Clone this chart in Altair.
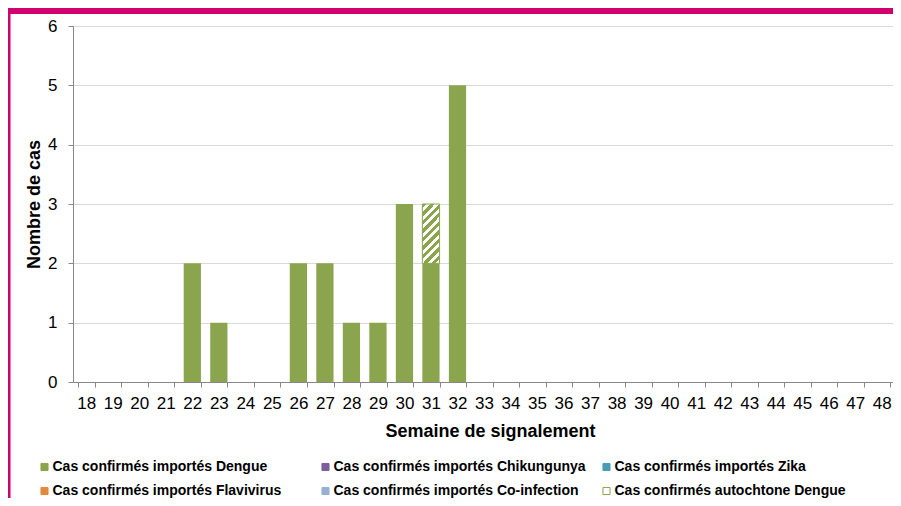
import altair as alt
import pandas as pd

# ---- data ----
weeks = [18, 19, 20, 21, 22, 23, 24, 25, 26, 27, 28, 29, 30, 31, 32, 33,
         34, 35, 36, 37, 38, 39, 40, 41, 42, 43, 44, 45, 46, 47, 48]
importes_dengue = [0, 0, 0, 0, 2, 1, 0, 0, 2, 2, 1, 1, 3, 2, 5, 0,
                   0, 0, 0, 0, 0, 0, 0, 0, 0, 0, 0, 0, 0, 0, 0]
autochtone_dengue = [0, 0, 0, 0, 0, 0, 0, 0, 0, 0, 0, 0, 0, 1, 0, 0,
                     0, 0, 0, 0, 0, 0, 0, 0, 0, 0, 0, 0, 0, 0, 0]
y_ticks = [0, 1, 2, 3, 4, 5, 6]

# legend entries (listed column by column: the legend grid fills columns first)
series_names = [
    "Cas confirmés importés  Dengue",
    "Cas confirmés importés  Flavivirus",
    "Cas confirmés importés  Chikungunya",
    "Cas confirmés importés  Co-infection",
    "Cas confirmés importés  Zika",
    "Cas confirmés autochtone Dengue",
]
fill_colors = ["#8BA54E", "#E2883F", "#7B5E9A", "#97AFD5", "#4A9BB3", "#FFFFFF"]
stroke_colors = ["#8BA54E", "#E2883F", "#7B5E9A", "#97AFD5", "#4A9BB3", "#8BA54E"]

GREEN = "#8BA54E"
MAGENTA = "#D0006F"
FONT = "Liberation Sans"

df = pd.DataFrame({"semaine": weeks, "importes": importes_dengue,
                   "autochtone": autochtone_dengue})
df["serie"] = series_names[0]

W, H = 820, 356          # visible part of the plot (page is cropped on the right)
RANGE_W = 822            # x scale runs slightly past the page edge, as in the reference

x_enc = alt.X(
    "semaine:O",
    scale=alt.Scale(domain=weeks, range=[0, RANGE_W], paddingInner=0.35, paddingOuter=0.175),
    axis=alt.Axis(title="Semaine de signalement", labelAngle=0, tickBand="extent",
                  labelFontSize=17, labelPadding=8, tickSize=5, titleFontSize=18,
                  titleFontWeight="bold", titlePadding=11, titleX=417, grid=False),
)
y_enc = alt.Y(
    "importes:Q",
    scale=alt.Scale(domain=[0, 6], nice=False),
    axis=alt.Axis(title="Nombre de cas", values=y_ticks, format="d", labelFontSize=17,
                  labelPadding=11, tickSize=5, titleFontSize=18, titleFontWeight="bold",
                  titlePadding=4, grid=True, gridColor="#d9d9d9"),
)

legend = alt.Legend(
    title=None, orient="none", legendX=-35.5, legendY=434, columns=3, gridAlign="all",
    columnPadding=10, rowPadding=10, symbolType="square", symbolSize=50,
    symbolStrokeWidth=1, labelFont=FONT, labelFontWeight="bold", labelFontSize=14,
    labelLimit=400, labelOffset=1, padding=0, labelColor="black",
)

bars = alt.Chart(df).mark_bar(strokeWidth=0).encode(
    x=x_enc,
    y=y_enc,
    fill=alt.Fill("serie:N", scale=alt.Scale(domain=series_names, range=fill_colors),
                  legend=legend),
    stroke=alt.Stroke("serie:N", scale=alt.Scale(domain=series_names, range=stroke_colors),
                      legend=legend),
)

# diagonal hatching for the autochthonous case
n_stripes = 9
stops = []
for i in range(n_stripes):
    stops.append(alt.GradientStop(color=GREEN, offset=i / n_stripes))
    stops.append(alt.GradientStop(color=GREEN, offset=(i + 0.5) / n_stripes))
    stops.append(alt.GradientStop(color="white", offset=(i + 0.5) / n_stripes))
    stops.append(alt.GradientStop(color="white", offset=(i + 1) / n_stripes))
hatch = alt.LinearGradient(gradient="linear", stops=stops, x1=0, y1=0, x2=0.35, y2=1.19)

hatched = alt.Chart(df).transform_filter("datum.autochtone > 0").transform_calculate(
    haut="datum.importes + datum.autochtone"
).mark_bar(fill=hatch, stroke=GREEN, strokeWidth=1).encode(
    x=x_enc,
    y=alt.Y("importes:Q"),
    y2="haut:Q",
)

frame = pd.DataFrame({"k": [0]})
top_band = alt.Chart(frame).mark_rect(color=MAGENTA).encode(
    x=alt.value(-65), x2=alt.value(W + 5), y=alt.value(-18), y2=alt.value(-12))
left_band = alt.Chart(frame).mark_rect(color=MAGENTA).encode(
    x=alt.value(-65), x2=alt.value(-62.5), y=alt.value(-18), y2=alt.value(480))

chart = alt.layer(top_band, left_band, bars, hatched).properties(
    width=W, height=H,
    autosize=alt.AutoSizeParams(type="none"),
    padding={"left": 65, "top": 18, "right": 0, "bottom": 116},
).configure_view(stroke=None).configure_axis(
    labelFont=FONT, titleFont=FONT, labelColor="black", titleColor="black",
    domainColor="#a6a6a6", tickColor="#a6a6a6",
).configure(background="white")

chart.save("out.html", embed_options={"renderer": "svg", "actions": False})
